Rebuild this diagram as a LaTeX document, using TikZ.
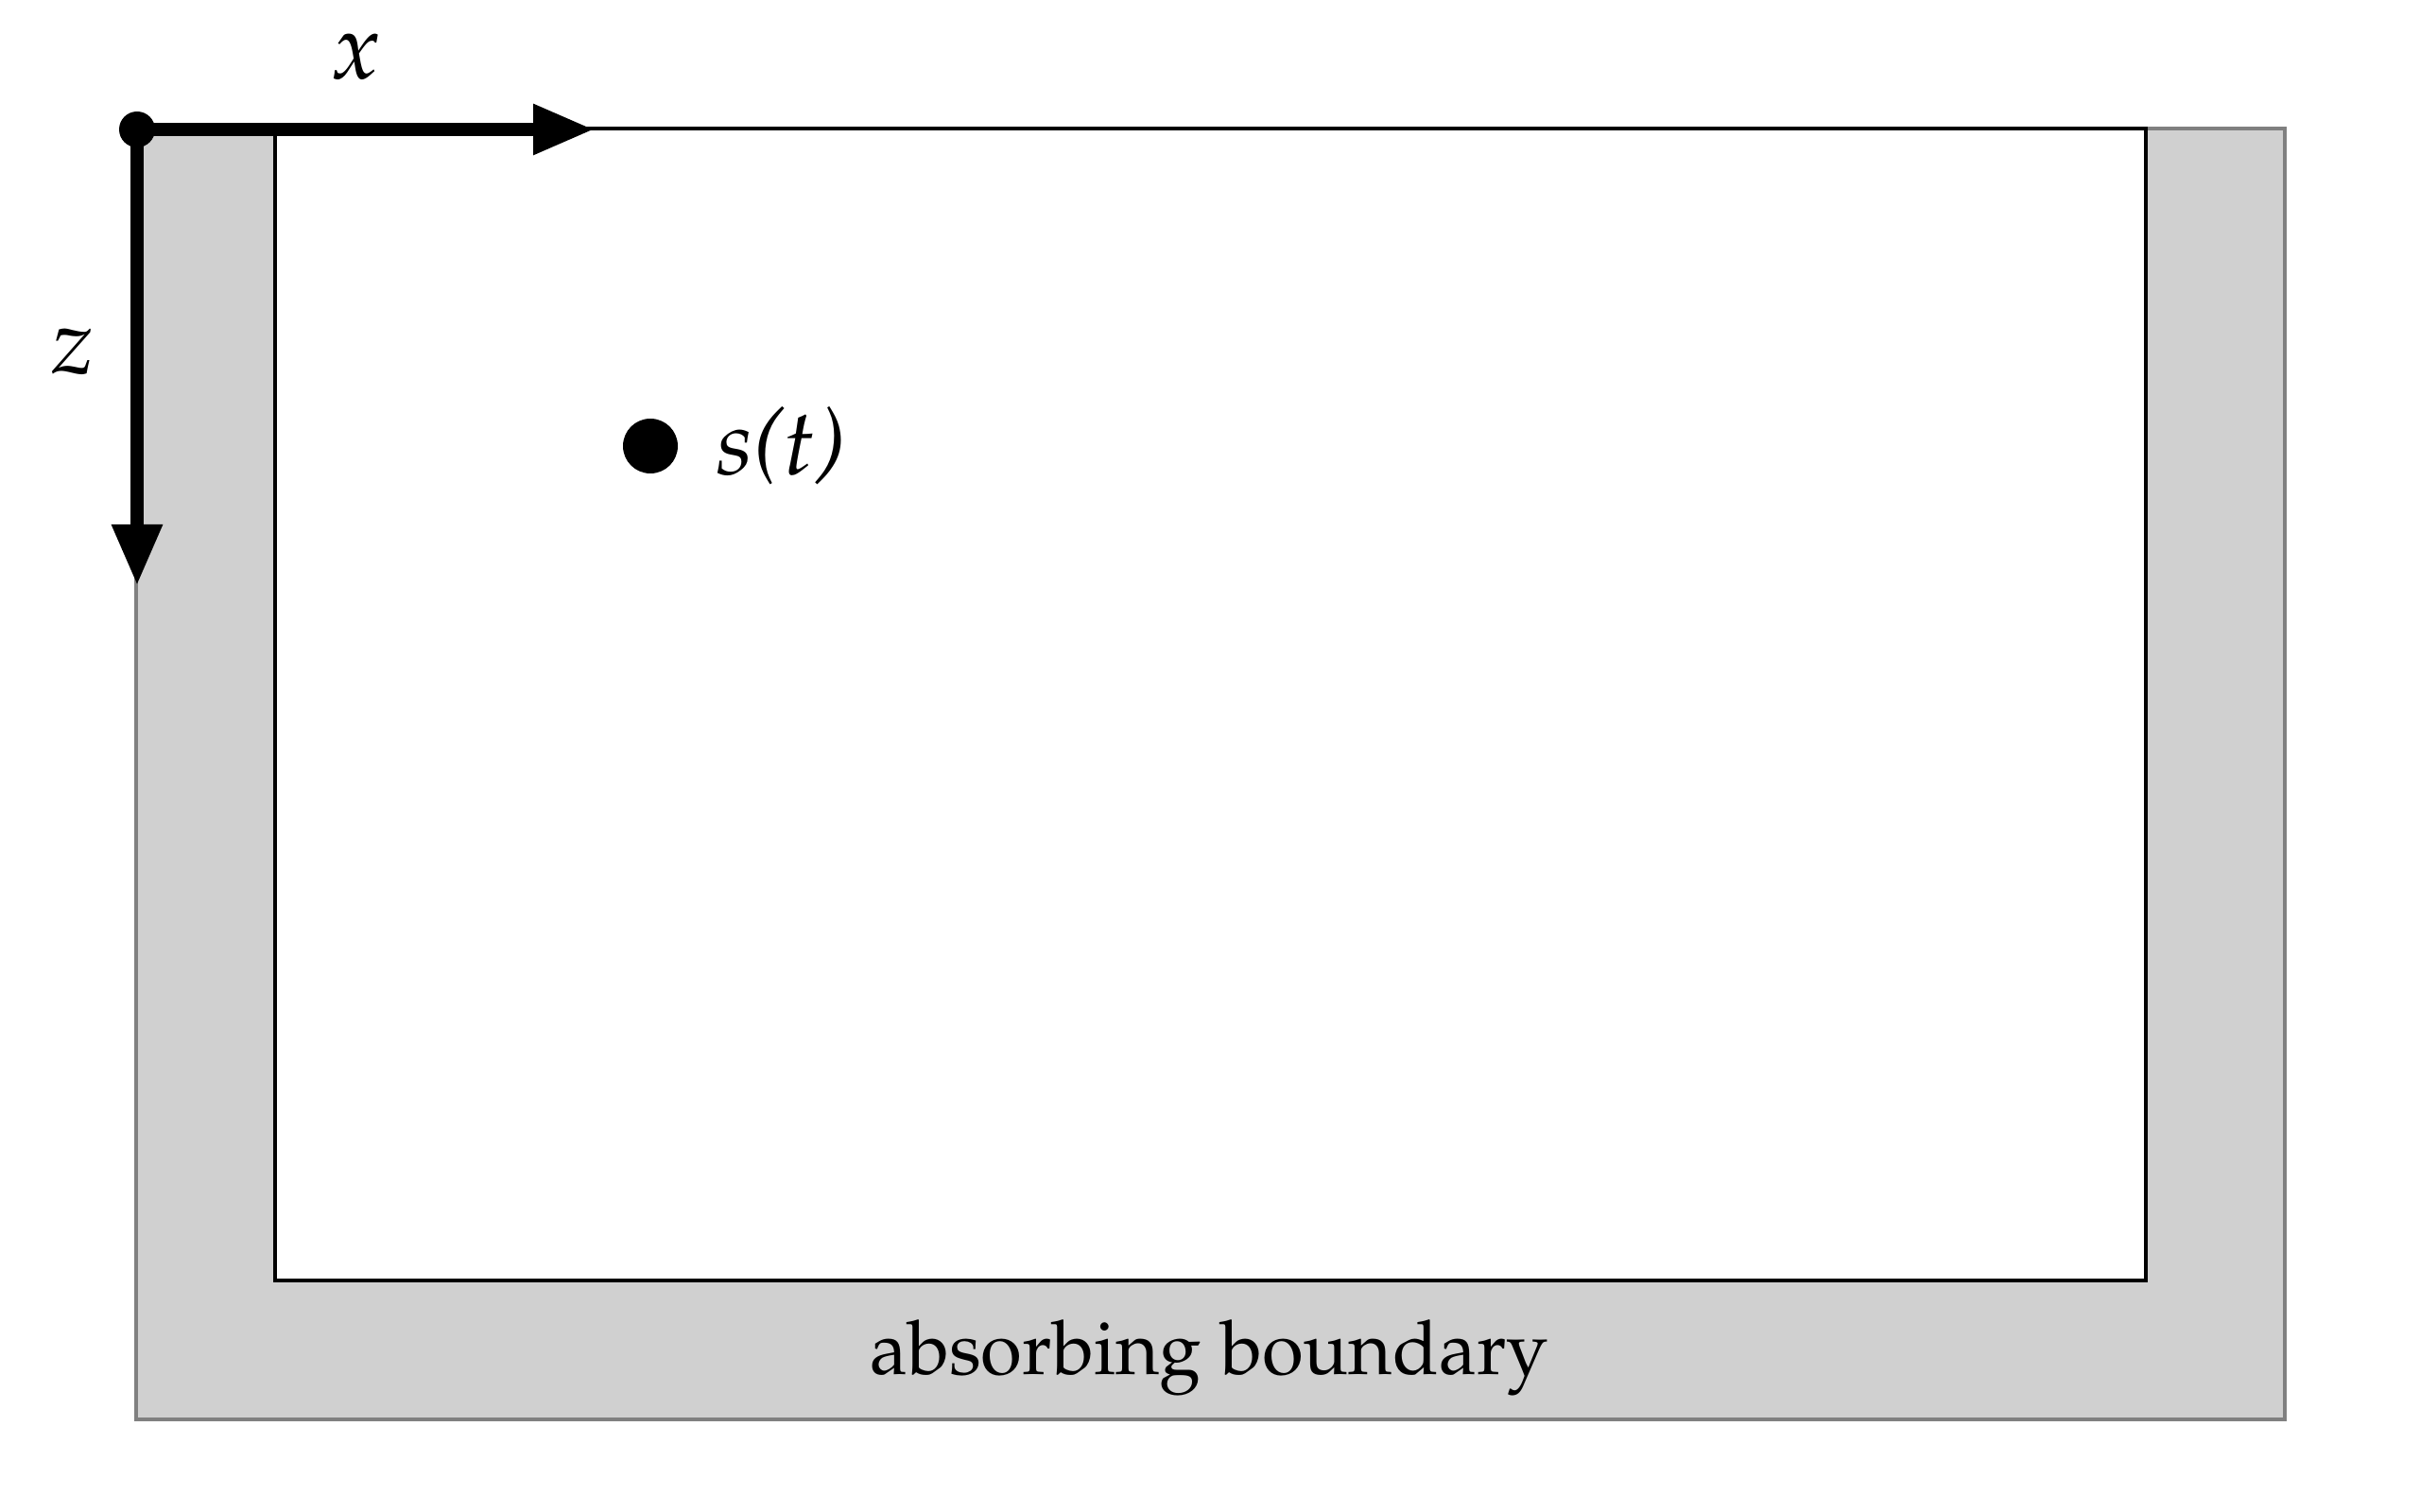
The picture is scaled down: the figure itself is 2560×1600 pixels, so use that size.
\documentclass[tikz,border=0pt]{standalone}
\usepackage[T1]{fontenc}
\usepackage{mathpazo}
\usepackage{tikz}
\usetikzlibrary{arrows.meta, positioning}
\definecolor{absorbgray}{HTML}{D0D0D0}
\definecolor{edgegray}{HTML}{808080}

\begin{document}
\begin{tikzpicture}[x=0.05mm, y=-0.05mm]
    \tikzset{
        axis/.style={line width=2.1pt, -{Triangle[length=3.25mm, width=2.5mm]}},
        dot/.style={circle, fill=black, inner sep=0pt},
        biglabel/.style={font=\fontsize{14}{16}\selectfont},
    }
    \useasboundingbox (0,0) rectangle (2560,1600);

    % Absorbing layer around the domain
    \fill[absorbgray, draw=edgegray, line width=0.7pt] (144,136) rectangle (2417,1502);

    % Interior domain
    \draw[fill=white, line width=0.6pt] (291,136) rectangle (2270,1355);

    \node[font=\fontsize{11.35}{13}\selectfont] (boundary) at (1279,1437) {absorbing boundary};

    % Axes
    \coordinate (origin) at (145,137);
    \coordinate (xend) at (629,137);
    \coordinate (zend) at (145,620);
    \draw[axis] (origin) -- (xend);
    \draw[axis] (origin) -- (zend);
    \node[dot, minimum size=1.9mm] (odot) at (origin) {};

    \node[biglabel] (xlabel) at (377,60) {$x$};
    \node[biglabel] (zlabel) at (77,372) {$z$};

    % Source
    \node[dot, minimum size=2.9mm] (src) at (688,472) {};
    \node[biglabel, inner sep=0pt, right=1.95mm of src] (srclabel) {\textit{s(t)}};

\end{tikzpicture}
\end{document}
